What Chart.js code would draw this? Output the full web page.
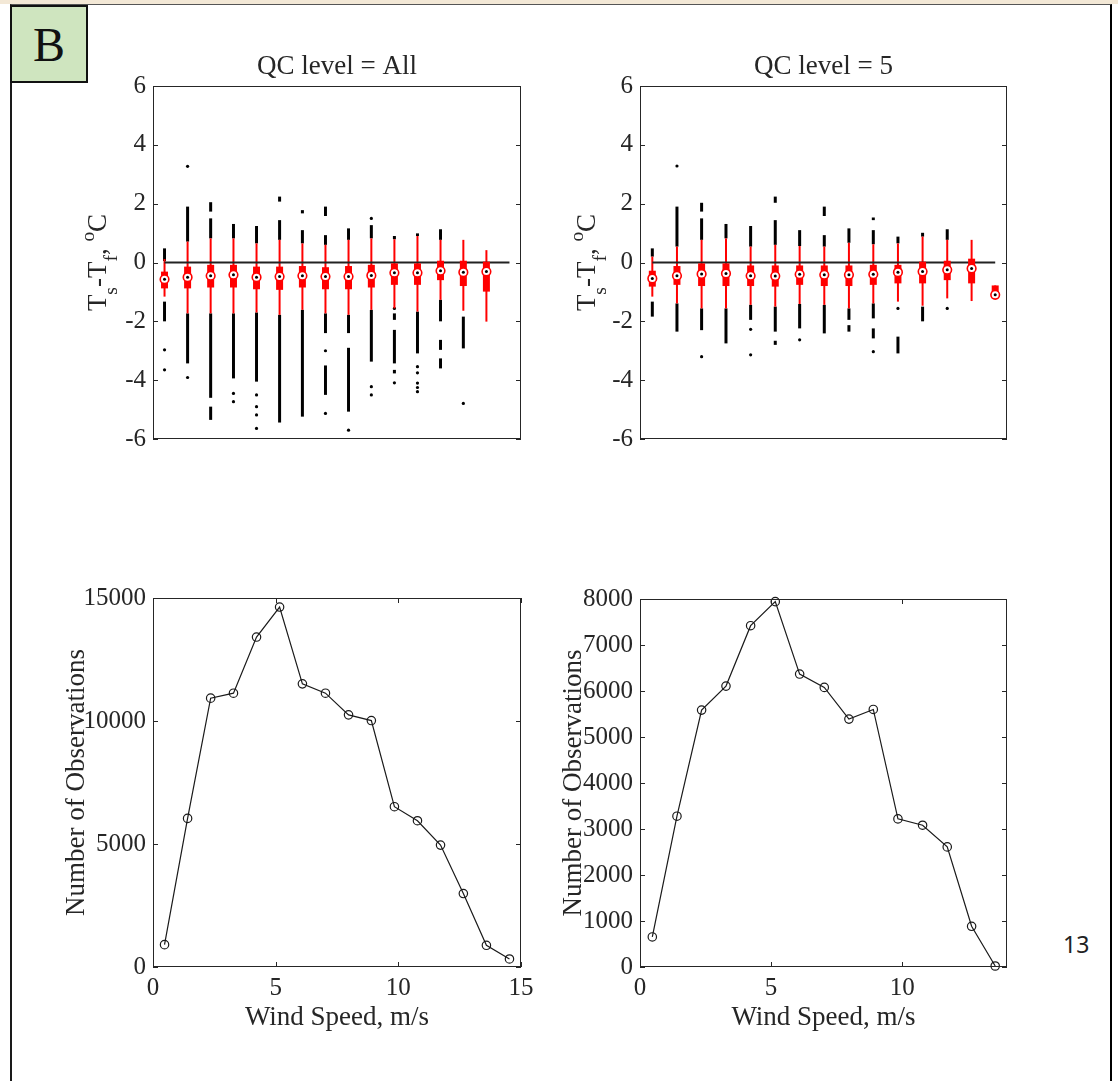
<!DOCTYPE html>
<html>
<head>
<meta charset="utf-8">
<script src="https://cdn.jsdelivr.net/npm/chart.js@4.4.1/dist/chart.umd.min.js"></script>
<style>
html,body{margin:0;padding:0;background:#fff;}
body{width:1118px;height:1081px;position:relative;overflow:hidden;font-family:"Liberation Serif",serif;}
#strip{position:absolute;left:0;top:0;width:1118px;height:4px;background:#f3e8d6;}
#frame{position:absolute;left:10px;top:4px;width:1098px;height:1100px;border-top:1px solid #555;border-left:2px solid #1a1a1a;border-right:2px solid #000;}
#tag{position:absolute;left:10px;top:5px;width:74px;height:74px;border:2px solid #111;background:#cfe5bf;font-size:48px;line-height:76px;text-align:center;color:#111;font-family:"Liberation Serif",serif;}
#page{position:absolute;left:1063px;top:933px;font-family:"Noto Sans",sans-serif;font-size:23px;line-height:23px;color:#222;}
canvas{position:absolute;}
</style>
</head>
<body>
<div id="strip"></div>
<div id="frame"></div>
<div id="tag">B</div>
<div id="page">13</div>
<script>
// ---------------- data ----------------
const windAll = [0.47,1.41,2.35,3.28,4.22,5.16,6.09,7.03,7.97,8.90,9.84,10.78,11.72,12.65,13.59,14.53];
const windQC5 = [0.47,1.41,2.35,3.28,4.22,5.16,6.09,7.03,7.97,8.90,9.84,10.78,11.72,12.65,13.55];

const countAll = [909,6041,10928,11131,13412,14633,11511,11131,10249,10018,6516,5946,4955,2986,882,326];
const countQC5 = [653,3278,5585,6107,7420,7942,6368,6078,5389,5599,3220,3082,2611,885,22];

// box statistics, QC level = All
const allWhiskerLow  = [-1.16,-1.73,-1.73,-1.73,-1.70,-1.78,-1.61,-1.73,-1.78,-1.61,-1.56,-1.67,-1.27,-1.64,-2.01];
const allQ1          = [-0.88,-0.88,-0.85,-0.85,-0.91,-0.93,-0.85,-0.91,-0.91,-0.85,-0.76,-0.76,-0.60,-0.80,-0.99];
const allMedian      = [-0.57,-0.50,-0.45,-0.42,-0.50,-0.48,-0.45,-0.48,-0.48,-0.44,-0.35,-0.35,-0.28,-0.33,-0.31];
const allQ3          = [-0.31,-0.14,-0.08,-0.08,-0.14,-0.14,-0.12,-0.16,-0.12,-0.08,-0.03,-0.03,0.06,0.06,0.03];
const allWhiskerHigh = [0.12,0.71,0.82,0.82,0.65,0.77,0.65,0.60,0.77,0.82,0.79,0.90,0.77,0.77,0.42];
// outliers (dense runs of points as [low, high], isolated points as values)
const allOutlierRuns = [
  [[0.05,0.48],[-2.0,-1.33]],
  [[0.71,1.9],[-3.43,-1.73]],
  [[1.73,2.05],[0.82,1.5],[-4.6,-1.73],[-5.35,-4.9]],
  [[0.82,1.31],[-3.94,-1.73]],
  [[0.65,1.24],[-4.05,-1.70]],
  [[2.07,2.24],[0.77,1.44],[-5.44,-1.78]],
  [[1.67,1.78],[0.65,1.1],[-5.24,-1.61]],
  [[1.58,1.9],[0.6,0.93],[-2.4,-1.73],[-4.5,-3.5]],
  [[0.77,1.16],[-2.4,-1.78],[-5.07,-2.9]],
  [[0.82,1.27],[-3.37,-1.61]],
  [[0.79,0.9],[-1.95,-1.73],[-3.43,-2.29],[-3.77,-3.65]],
  [[0.9,0.99],[-3.09,-1.67]],
  [[0.77,1.13],[-2.0,-1.27],[-2.97,-2.63],[-3.6,-3.26]],
  [[-2.92,-1.84]],
  []
];
const allOutlierPoints = [
  [-2.97,-3.65],[3.27,-3.91],[],[-4.45,-4.73],[-4.5,-4.9,-5.18,-5.64],[],[],[-3.0,-5.13],
  [-5.7],[1.5,-4.22,-4.5],[-1.56,-4.09],[-3.54,-3.75,-4.1,-4.25,-4.39],[],[-4.79],[]
];

// box statistics, QC level = 5
const qcWhiskerLow  = [-1.16,-1.39,-1.56,-1.56,-1.44,-1.50,-1.41,-1.44,-1.56,-1.39,-1.33,-1.47,-1.22,-1.31,-1.10];
const qcQ1          = [-0.82,-0.76,-0.80,-0.80,-0.80,-0.82,-0.76,-0.80,-0.80,-0.76,-0.71,-0.71,-0.60,-0.71,-1.10];
const qcMedian      = [-0.54,-0.45,-0.39,-0.37,-0.45,-0.46,-0.40,-0.42,-0.42,-0.40,-0.33,-0.31,-0.25,-0.20,-1.10];
const qcQ3          = [-0.28,-0.12,-0.03,-0.03,-0.10,-0.10,-0.10,-0.10,-0.10,-0.08,-0.08,0.03,0.06,0.13,-0.78];
const qcWhiskerHigh = [0.20,0.54,0.77,0.82,0.54,0.60,0.56,0.54,0.67,0.62,0.65,0.88,0.77,0.77,-0.78];
const qcOutlierRuns = [
  [[0.2,0.48],[-1.84,-1.33]],
  [[0.54,1.9],[-2.35,-1.39]],
  [[1.73,2.03],[0.77,1.5],[-2.3,-1.56]],
  [[0.82,1.31],[-2.75,-1.56]],
  [[0.54,1.24],[-1.95,-1.44]],
  [[2.03,2.24],[0.6,1.44],[-2.35,-1.5],[-2.8,-2.66]],
  [[0.56,1.1],[-2.24,-1.41]],
  [[1.58,1.9],[0.54,0.93],[-2.41,-1.44]],
  [[0.67,1.16],[-1.95,-1.56],[-2.35,-2.13]],
  [[1.44,1.53],[0.62,1.1],[-1.9,-1.39],[-2.58,-2.24]],
  [[0.65,0.88],[-3.09,-2.52]],
  [[0.88,1.01],[-2.0,-1.5]],
  [[0.77,1.13]],
  [],
  []
];
const qcOutlierPoints = [[],[3.28],[-3.2],[],[-2.27,-3.14],[],[-2.63],[],[],[-3.03],[-1.56],[],[-1.56],[],[]];

// tick labels
const tempTicks = [-6,-4,-2,0,2,4,6];
const countTicksAll = [0,5000,10000,15000];
const countTicksQC5 = [0,1000,2000,3000,4000,5000,6000,7000,8000];
const windTicksAll = [0,5,10,15];
const windTicksQC5 = [0,5,10];

// ---------------- drawing ----------------
const RED = '#ff0000';
const INK = '#262626';
const SERIF = '"Liberation Serif", "Times New Roman", serif';
const YW = 110, PT = 50, PR = 30, XH = 80;

const tempLabel = [{t:'T'},{t:'s',sub:true},{t:'-T'},{t:'f',sub:true},{t:', '},{t:'o',sup:true},{t:'C'}];
const countLabel = [{t:'Number of Observations'}];

function drawRich(ctx, parts, x, y, size) {
  ctx.save();
  ctx.translate(x, y);
  ctx.rotate(-Math.PI / 2);
  ctx.textAlign = 'left';
  ctx.textBaseline = 'alphabetic';
  ctx.fillStyle = INK;
  let total = 0;
  const items = parts.map(p => {
    const s = (p.sub || p.sup) ? size * 0.72 : size;
    ctx.font = s + 'px ' + SERIF;
    const w = ctx.measureText(p.t).width;
    total += w;
    return Object.assign({}, p, {s, w});
  });
  let cx = -total / 2;
  items.forEach(p => {
    ctx.font = p.s + 'px ' + SERIF;
    ctx.fillText(p.t, cx, p.sub ? size * 0.42 : (p.sup ? -size * 0.45 : 0));
    cx += p.w;
  });
  ctx.restore();
}

const decor = {
  id: 'decor',
  afterDraw(chart, args, o) {
    const ctx = chart.ctx, a = chart.chartArea;
    const ys = chart.scales.y, xs = chart.scales.x;
    const L = Math.round(a.left), R = Math.round(a.right), T = Math.round(a.top), B = Math.round(a.bottom);
    ctx.save();
    ctx.strokeStyle = INK;
    ctx.lineWidth = 1;
    ctx.strokeRect(L + 0.5, T + 0.5, R - L - 1, B - T - 1);
    const tl = 5;
    ctx.beginPath();
    ys.ticks.forEach(t => {
      const py = Math.round(ys.getPixelForValue(t.value)) + 0.5;
      ctx.moveTo(L, py); ctx.lineTo(L + tl, py);
      ctx.moveTo(R, py); ctx.lineTo(R - tl, py);
    });
    if (o.xTicks) {
      xs.ticks.forEach(t => {
        const px = Math.round(xs.getPixelForValue(t.value)) + 0.5;
        ctx.moveTo(px, B); ctx.lineTo(px, B - tl);
        ctx.moveTo(px, T); ctx.lineTo(px, T + tl);
      });
    }
    ctx.stroke();
    ctx.fillStyle = INK;
    if (o.title) {
      ctx.font = '27px ' + SERIF;
      ctx.textAlign = 'center';
      ctx.textBaseline = 'alphabetic';
      ctx.fillText(o.title, (L + R) / 2, T - 12);
    }
    if (o.xLabel) {
      ctx.font = '27px ' + SERIF;
      ctx.textAlign = 'center';
      ctx.textBaseline = 'alphabetic';
      ctx.fillText(o.xLabel, (L + R) / 2, B + 58);
    }
    if (o.yLabel) drawRich(ctx, o.yLabel, L - o.yLabelGap, (T + B) / 2, o.yLabelSize);
    ctx.restore();
  }
};

function makeCanvas(rect) {
  const c = document.createElement('canvas');
  const w = YW + (rect.R - rect.L) + PR;
  const h = PT + (rect.B - rect.T) + XH;
  c.width = w; c.height = h;
  c.style.left = (rect.L - YW) + 'px';
  c.style.top = (rect.T - PT) + 'px';
  c.style.width = w + 'px';
  c.style.height = h + 'px';
  document.body.appendChild(c);
  return c;
}

const tickFont = {family: SERIF, size: 25};

function yScale(min, max, ticks) {
  return {
    min, max,
    grid: {display: false, drawTicks: false},
    border: {display: false},
    ticks: {font: tickFont, color: INK, padding: 7, callback: v => String(v)},
    afterBuildTicks: s => { s.ticks = ticks.map(v => ({value: v})); },
    afterFit: s => { s.width = YW; }
  };
}

function xScale(max, ticks) {
  const sc = {
    type: 'linear', min: 0, max, offset: false,
    grid: {display: false, drawTicks: false, offset: false},
    border: {display: false},
    ticks: {display: !!ticks, font: tickFont, color: INK, padding: 6, callback: v => String(v)},
    afterFit: s => { s.height = XH; }
  };
  if (ticks) sc.afterBuildTicks = s => { s.ticks = ticks.map(v => ({value: v})); };
  return sc;
}

function boxPanel(rect, wind, lo, q1, med, q3, hi, runs, points, xMax, title, gap) {
  const n = med.length;
  const whiskers = [], boxes = [], medians = [], runData = [], pointData = [];
  for (let i = 0; i < n; i++) {
    const x = wind[i];
    whiskers.push({x, y: [lo[i], hi[i]]});
    boxes.push({x, y: [q1[i], q3[i]]});
    medians.push({x, y: med[i]});
    runs[i].forEach(r => runData.push({x, y: r}));
    points[i].forEach(v => pointData.push({x, y: v}));
  }
  const zero = [{x: wind[0], y: 0}, {x: wind[wind.length - 1], y: 0}];
  const bar = (data, color, w, order) => ({
    type: 'bar', data, backgroundColor: color, borderWidth: 0, grouped: false, inflateAmount: 0,
    barThickness: w, maxBarThickness: w, order
  });
  new Chart(makeCanvas(rect), {
    type: 'bar',
    data: {datasets: [
      bar(runData, '#000', 3, 6),
      {type: 'scatter', data: pointData, pointRadius: 1.6, pointBackgroundColor: '#000', pointBorderWidth: 0, order: 5},
      bar(whiskers, RED, 2, 4),
      {type: 'line', data: zero, borderColor: '#222', borderWidth: 1.8, pointRadius: 0, order: 3},
      bar(boxes, RED, 7, 2),
      {type: 'scatter', data: medians, pointRadius: 4.3, pointBackgroundColor: '#fff', pointBorderColor: RED, pointBorderWidth: 1.6, order: 1, clip: false},
      {type: 'scatter', data: medians, pointRadius: 1.5, pointBackgroundColor: '#000', pointBorderWidth: 0, order: 0, clip: false}
    ]},
    options: {
      responsive: false, animation: false, events: [],
      layout: {padding: {left: 0, top: PT, right: PR, bottom: 0}},
      plugins: {legend: {display: false}, tooltip: {enabled: false},
        decor: {title, yLabel: tempLabel, yLabelGap: gap, yLabelSize: 27, xTicks: false}},
      scales: {x: xScale(xMax, null), y: yScale(-6, 6, tempTicks)}
    },
    plugins: [decor]
  });
}

function countPanel(rect, wind, counts, xMax, xTicks, yMax, yTicks, gap) {
  new Chart(makeCanvas(rect), {
    type: 'line',
    data: {datasets: [{
      data: wind.map((x, i) => ({x, y: counts[i]})),
      borderColor: '#1a1a1a', borderWidth: 1.2, tension: 0,
      pointRadius: 4.2, pointStyle: 'circle', pointBackgroundColor: 'rgba(0,0,0,0)',
      pointBorderColor: '#1a1a1a', pointBorderWidth: 1.2, clip: false
    }]},
    options: {
      responsive: false, animation: false, events: [],
      layout: {padding: {left: 0, top: PT, right: PR, bottom: 0}},
      plugins: {legend: {display: false}, tooltip: {enabled: false},
        decor: {xLabel: 'Wind Speed, m/s', yLabel: countLabel, yLabelGap: gap, yLabelSize: 27, xTicks: true}},
      scales: {x: xScale(xMax, xTicks), y: yScale(0, yMax, yTicks)}
    },
    plugins: [decor]
  });
}

boxPanel({L:153, T:86, R:521, B:439}, windAll, allWhiskerLow, allQ1, allMedian, allQ3, allWhiskerHigh,
  allOutlierRuns, allOutlierPoints, 15, 'QC level = All', 47);
boxPanel({L:640, T:86, R:1007, B:439}, windQC5, qcWhiskerLow, qcQ1, qcMedian, qcQ3, qcWhiskerHigh,
  qcOutlierRuns, qcOutlierPoints, 14, 'QC level = 5', 45);
countPanel({L:153, T:598, R:521, B:967}, windAll, countAll, 15, windTicksAll, 15000, countTicksAll, 69);
countPanel({L:640, T:599, R:1007, B:967}, windQC5, countQC5, 14, windTicksQC5, 8000, countTicksQC5, 59);
</script>
</body>
</html>
